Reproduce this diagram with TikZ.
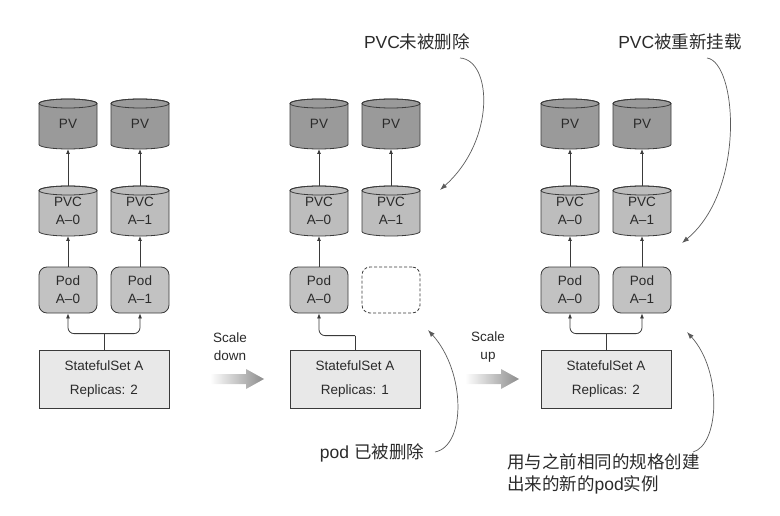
\documentclass[tikz,border=0pt]{standalone}
\usepackage{fontspec}
\setmainfont{Liberation Sans}
\newfontfamily\cjk{Noto Sans CJK SC}
\usetikzlibrary{arrows.meta,backgrounds}
\definecolor{linec}{HTML}{3A3A3A}
\definecolor{txtc}{HTML}{2A2A2A}
\definecolor{pvfill}{HTML}{9A9A9A}
\definecolor{pvcfill}{HTML}{BDBDBD}
\definecolor{podfill}{HTML}{C2C2C2}
\definecolor{ssfill}{HTML}{E8E8E8}
\definecolor{annc}{HTML}{5A5A5A}
\newcommand\mycyl[2]{%
  \path[fill=#2,draw=linec,line width=0.8pt]
    ([yshift=-4.5pt]#1.north west) -- ([yshift=4.5pt]#1.south west)
    arc[start angle=180,end angle=360,x radius=29pt,y radius=4.5pt]
    -- ([yshift=-4.5pt]#1.north east)
    arc[start angle=0,end angle=180,x radius=29pt,y radius=4.5pt] -- cycle;
  \draw[linec,line width=0.8pt] ([yshift=-4.5pt]#1.north) ellipse[x radius=29pt,y radius=4.5pt];}
\begin{document}
\begin{tikzpicture}[x=1pt,y=-1pt,
  font=\fontsize{13.5pt}{18pt}\selectfont,
  every node/.style={text=txtc},
  cylnode/.style={minimum width=58pt,minimum height=50pt,inner sep=0pt,outer sep=0pt,align=center},
  podbox/.style={draw=linec,fill=podfill,line width=0.8pt,rounded corners=8pt,minimum width=58pt,minimum height=46pt,inner sep=0pt,align=center},
  gonebox/.style={draw=linec,fill=white,line width=0.8pt,dash pattern=on 3pt off 2pt,rounded corners=8pt,minimum width=58pt,minimum height=46pt,inner sep=0pt},
  ssbox/.style={draw=linec,fill=ssfill,line width=0.8pt,minimum width=130pt,minimum height=58pt,inner sep=0pt,align=center},
  link/.style={draw=linec,line width=0.8pt},
  arr/.style={link,-{Latex[length=5pt,width=4pt]}},
  ann/.style={draw=annc,line width=0.7pt,-{Latex[length=7pt,width=5pt]}},
  anntext/.style={font=\fontsize{17.5pt}{22pt}\selectfont,inner sep=0pt},
  scaletext/.style={align=center,font=\fontsize{13.5pt}{18pt}\selectfont,inner sep=0pt}]
\useasboundingbox (0,0) rectangle (780,516);

% ---------- left group ----------
\node[cylnode] (pvL1) at (68,124) {PV};
\node[cylnode] (pvL2) at (140,124) {PV};
\node[cylnode] (pvcL1) at (68,211) {\rule{0pt}{4pt}PVC\\A--0};
\node[cylnode] (pvcL2) at (140,211) {\rule{0pt}{4pt}PVC\\A--1};
\node[podbox] (podL1) at (68,290) {Pod\\A--0};
\node[podbox] (podL2) at (140,290) {Pod\\A--1};
\node[ssbox] (ssL) at (104,379) {StatefulSet A\\[6pt]Replicas: 2};

% ---------- middle group ----------
\node[cylnode] (pvM1) at (319,124) {PV};
\node[cylnode] (pvM2) at (391,124) {PV};
\node[cylnode] (pvcM1) at (319,211) {\rule{0pt}{4pt}PVC\\A--0};
\node[cylnode] (pvcM2) at (391,211) {\rule{0pt}{4pt}PVC\\A--1};
\node[podbox] (podM1) at (319,290) {Pod\\A--0};
\node[gonebox] (podM2) at (391,290) {};
\node[ssbox] (ssM) at (355,379) {StatefulSet A\\[6pt]Replicas: 1};

% ---------- right group ----------
\node[cylnode] (pvR1) at (570,124) {PV};
\node[cylnode] (pvR2) at (642,124) {PV};
\node[cylnode] (pvcR1) at (570,211) {\rule{0pt}{4pt}PVC\\A--0};
\node[cylnode] (pvcR2) at (642,211) {\rule{0pt}{4pt}PVC\\A--1};
\node[podbox] (podR1) at (570,290) {Pod\\A--0};
\node[podbox] (podR2) at (642,290) {Pod\\A--1};
\node[ssbox] (ssR) at (606,379) {StatefulSet A\\[6pt]Replicas: 2};

\begin{scope}[on background layer,y=1pt]
  \foreach \n in {pvL1,pvL2,pvM1,pvM2,pvR1,pvR2}{\mycyl{\n}{pvfill}}
  \foreach \n in {pvcL1,pvcL2,pvcM1,pvcM2,pvcR1,pvcR2}{\mycyl{\n}{pvcfill}}
\end{scope}

% vertical links
\foreach \g in {L,M,R}{
  \draw[arr] (pvc\g1.north) -- (pv\g1.south);
  \draw[arr] (pvc\g2.north) -- (pv\g2.south);
  \draw[arr] (pod\g1.north) -- (pvc\g1.south);
}
\draw[arr] (podL2.north) -- (pvcL2.south);
\draw[arr] (podR2.north) -- (pvcR2.south);

% statefulset to pods
\draw[link] (ssL.north) -- ++(0,-16) coordinate (jL);
\draw[arr,rounded corners=6pt] (jL) -| (podL1.south);
\draw[arr,rounded corners=6pt] (jL) -| (podL2.south);
\draw[link] (ssR.north) -- ++(0,-16) coordinate (jR);
\draw[arr,rounded corners=6pt] (jR) -| (podR1.south);
\draw[arr,rounded corners=6pt] (jR) -| (podR2.south);
\draw[link] (ssM.north) -- ++(0,-14) coordinate (jM);
\draw[arr,rounded corners=6pt] (jM) -| (podM1.south);

% scale arrows
\node[scaletext] (sdown) at (230,347) {Scale\\down};
\node[scaletext] (sup) at (488,347) {Scale\\up};
\shade[left color=white,right color=black!45,draw=none]
  (210,374) -- (246,374) -- (246,369) -- (264,379) -- (246,389) -- (246,384) -- (210,384) -- cycle;
\shade[left color=white,right color=black!45,draw=none]
  (465,374) -- (501,374) -- (501,369) -- (519,379) -- (501,389) -- (501,384) -- (465,384) -- cycle;

% annotations
\node[anntext] (a1) at (417,42) {PVC{\cjk 未被删除}};
\coordinate (a1s) at (460,58);
\coordinate (a1e) at (440,190);
\draw[ann] (a1s) .. controls (492,60) and (496,140) .. (a1e);

\node[anntext] (a2) at (680,42) {PVC{\cjk 被重新挂载}};
\coordinate (a2s) at (707,58);
\coordinate (a2e) at (682,243);
\draw[ann] (a2s) .. controls (737,62) and (746,190) .. (a2e);

\node[anntext] (a3) at (372,453) {pod {\cjk 已被删除}};
\coordinate (a3s) at (435,452);
\coordinate (a3e) at (428,330);
\draw[ann] (a3s) .. controls (466,446) and (466,372) .. (a3e);

\node[anntext,anchor=west,align=left] (a4) at (507,474) {{\cjk 用与之前相同的规格创建}\\{\cjk 出来的新的}pod{\cjk 实例}};
\coordinate (a4s) at (693,452);
\coordinate (a4e) at (687,332);
\draw[ann] (a4s) .. controls (719,445) and (723,372) .. (a4e);
\end{tikzpicture}
\end{document}
